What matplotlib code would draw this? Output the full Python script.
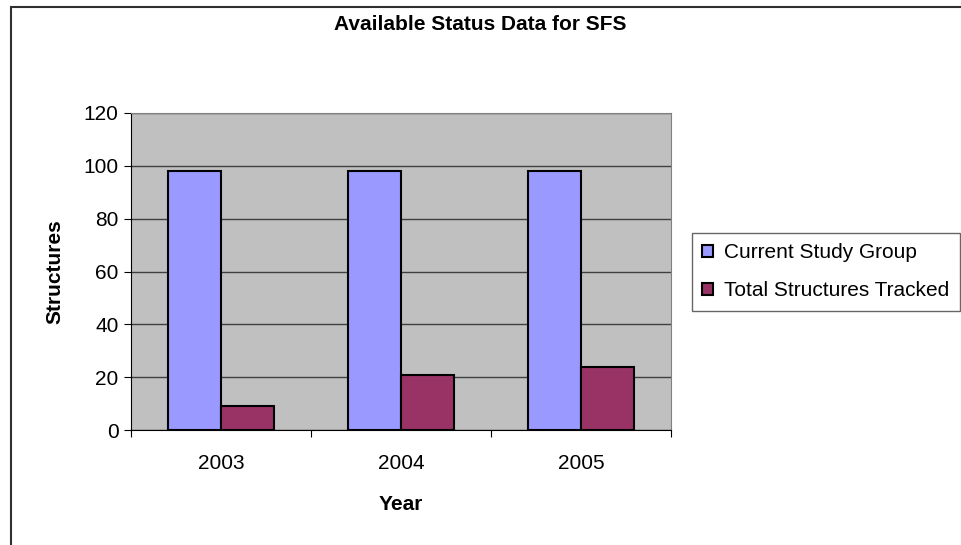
import numpy as np
import matplotlib.pyplot as plt
from matplotlib.patches import Rectangle

years = ['2003', '2004', '2005']
current_study = [98, 98, 98]
total_tracked = [9, 21, 24]

plt.rcParams['font.family'] = ['Liberation Sans', 'DejaVu Sans']

fig = plt.figure(figsize=(9.61, 5.45), dpi=100)
ax = fig.add_axes([131 / 961, 1 - 430 / 545, 540 / 961, 317 / 545])

x = np.arange(len(years))
w = 0.295
ax.bar(x - w / 2, current_study, w, color='#9999FF', edgecolor='black', linewidth=1.5,
       label='Current Study Group', zorder=3)
ax.bar(x + w / 2, total_tracked, w, color='#993366', edgecolor='black', linewidth=1.5,
       label='Total Structures Tracked', zorder=3)

ax.set_facecolor('#C0C0C0')
ax.set_xlim(-0.5, 2.5)
ax.set_ylim(0, 120)
ax.set_yticks(range(0, 121, 20))
ax.yaxis.grid(True, color='#404040', linewidth=1, zorder=1)
ax.set_axisbelow(True)

# ticks at category boundaries, labels in the middle
ax.set_xticks([-0.5, 0.5, 1.5, 2.5])
ax.set_xticklabels([])
ax.set_xticks(x, minor=True)
ax.set_xticklabels(years, minor=True, fontsize=15)
ax.tick_params(axis='x', which='minor', length=0, pad=17)
ax.tick_params(axis='x', which='major', length=5, color='black')
ax.tick_params(axis='y', length=5, labelsize=15, pad=4)

for s in ['top', 'right']:
    ax.spines[s].set_color('#808080')
for s in ['left', 'bottom']:
    ax.spines[s].set_color('black')

ax.set_xlabel('Year', fontsize=15, fontweight='bold', labelpad=16)
ax.set_ylabel('Structures', fontsize=15, fontweight='bold', labelpad=14)
fig.text(480 / 961, 1 - 24 / 545, 'Available Status Data for SFS', ha='center', va='center',
         fontsize=15, fontweight='bold')

leg = fig.legend(loc='upper left', bbox_to_anchor=(692 / 961, 1 - 233 / 545),
                 fontsize=15, frameon=True, fancybox=False, handlelength=0.5, handleheight=0.5,
                 handletextpad=0.55, borderpad=0.5, labelspacing=0.9, borderaxespad=0)
leg.get_frame().set_edgecolor('#404040')
leg.get_frame().set_linewidth(1)

# outer chart border (right/bottom are cropped off)
fig.patches.append(Rectangle((11 / 961, -0.05), 1.1, 1 - 6.5 / 545 + 0.05, transform=fig.transFigure,
                             fill=False, edgecolor='#303030', linewidth=1.5))

fig.savefig('out.png', dpi=100)
